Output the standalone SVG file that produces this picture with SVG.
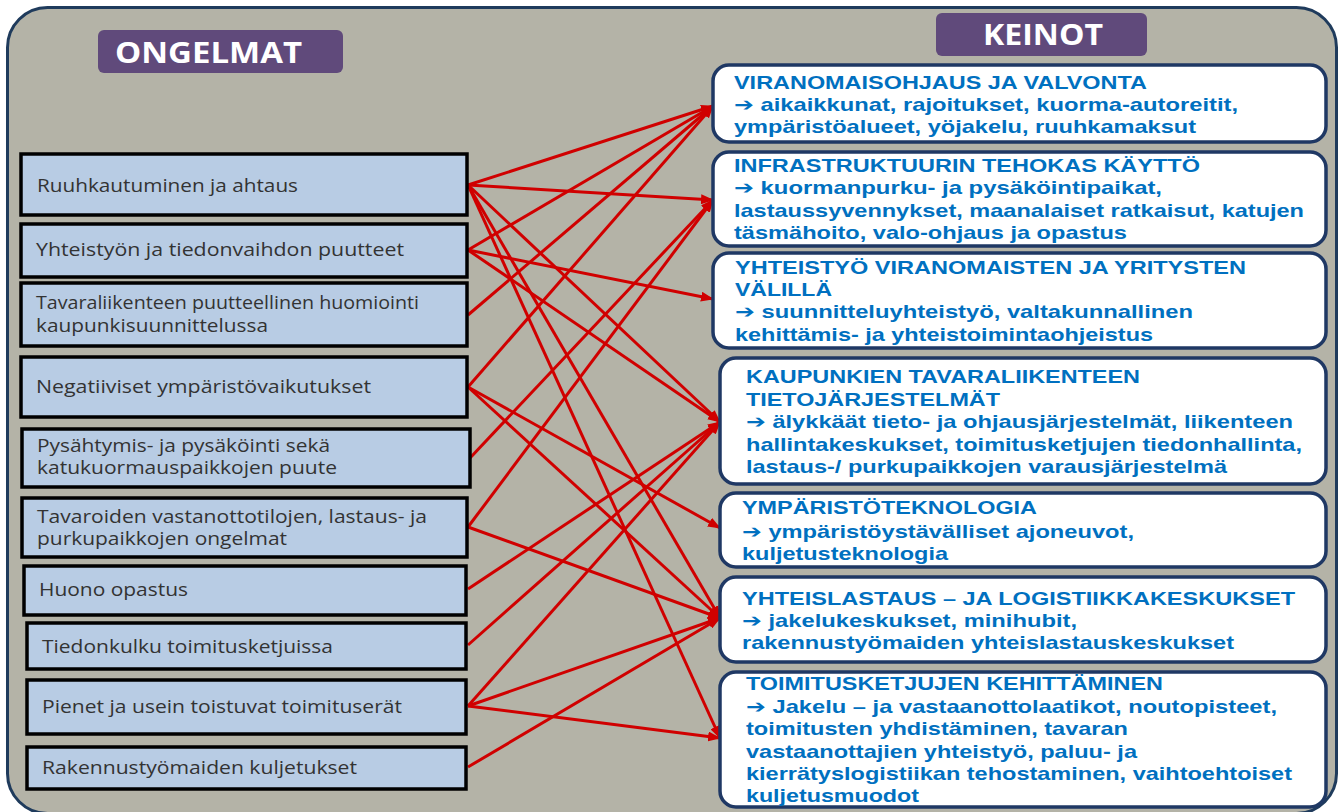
<svg xmlns="http://www.w3.org/2000/svg" width="1343" height="812" viewBox="0 0 1343 812">
<defs>
<style>
.bg{fill:#B4B3A7;stroke:#1F3B5C;stroke-width:3}
.hdr{fill:#604A7B}
.hdrt{font-family:"Open Sans","Liberation Sans",sans-serif;font-weight:bold;font-size:28px;fill:#FFFFFF}
.lb{fill:#B8CCE4;stroke:#000000;stroke-width:3.5}
.lt{font-family:"Open Sans","Liberation Sans",sans-serif;font-size:17.5px;fill:#333333}
.rb{fill:#FFFFFF;stroke:#1F3864;stroke-width:3.5}
.rt{font-family:"Liberation Sans",Arial,"DejaVu Sans",sans-serif;font-weight:bold;font-size:18.5px;fill:#0070C0}
.cn{stroke:#D00000;stroke-width:3;fill:none;marker-end:url(#ah)}
</style>
<marker id="ah" markerUnits="userSpaceOnUse" markerWidth="13" markerHeight="10" refX="12" refY="5" orient="auto">
<path d="M0,0 L13,5 L0,10 z" fill="#D00000"/>
</marker>
</defs>
<rect class="bg" x="7.5" y="7.5" width="1329" height="806" rx="40"/>
<g id="hdr-ongelmat">
<rect class="hdr" x="98" y="30" width="245" height="43" rx="6"/>
<text class="hdrt" x="115" y="63" textLength="187" lengthAdjust="spacingAndGlyphs">ONGELMAT</text>
</g>
<g id="hdr-keinot">
<rect class="hdr" x="936" y="13" width="211" height="43" rx="6"/>
<text class="hdrt" x="983" y="45" textLength="120" lengthAdjust="spacingAndGlyphs">KEINOT</text>
</g>
<g id="connectors">
<line class="cn" x1="468" y1="185" x2="713" y2="106"/>
<line class="cn" x1="468" y1="185" x2="713" y2="200"/>
<line class="cn" x1="468" y1="185" x2="720" y2="422"/>
<line class="cn" x1="468" y1="185" x2="720" y2="618"/>
<line class="cn" x1="468" y1="185" x2="720" y2="738"/>
<line class="cn" x1="468" y1="250" x2="713" y2="106"/>
<line class="cn" x1="468" y1="250" x2="713" y2="299"/>
<line class="cn" x1="468" y1="250" x2="720" y2="422"/>
<line class="cn" x1="468" y1="315" x2="713" y2="106"/>
<line class="cn" x1="468" y1="387" x2="713" y2="106"/>
<line class="cn" x1="468" y1="387" x2="720" y2="528"/>
<line class="cn" x1="468" y1="387" x2="720" y2="618"/>
<line class="cn" x1="470" y1="458" x2="713" y2="200"/>
<line class="cn" x1="468" y1="527" x2="713" y2="200"/>
<line class="cn" x1="468" y1="527" x2="720" y2="618"/>
<line class="cn" x1="468" y1="589" x2="720" y2="422"/>
<line class="cn" x1="468" y1="645" x2="720" y2="422"/>
<line class="cn" x1="468" y1="706" x2="720" y2="422"/>
<line class="cn" x1="468" y1="706" x2="720" y2="618"/>
<line class="cn" x1="468" y1="706" x2="720" y2="738"/>
<line class="cn" x1="468" y1="767" x2="720" y2="618"/>
</g>
<g id="p1"><rect class="lb" x="21" y="154" width="446" height="61"/><text class="lt" x="37" y="192" textLength="261" lengthAdjust="spacingAndGlyphs">Ruuhkautuminen ja ahtaus</text></g>
<g id="p2"><rect class="lb" x="21" y="224" width="446" height="53"/><text class="lt" x="36" y="256" textLength="368" lengthAdjust="spacingAndGlyphs">Yhteistyön ja tiedonvaihdon puutteet</text></g>
<g id="p3"><rect class="lb" x="21" y="283" width="446" height="63"/><text class="lt" x="36" y="309" textLength="383" lengthAdjust="spacingAndGlyphs">Tavaraliikenteen puutteellinen huomiointi</text><text class="lt" x="36" y="332" textLength="232" lengthAdjust="spacingAndGlyphs">kaupunkisuunnittelussa</text></g>
<g id="p4"><rect class="lb" x="21" y="357" width="446" height="60"/><text class="lt" x="36" y="393" textLength="335" lengthAdjust="spacingAndGlyphs">Negatiiviset ympäristövaikutukset</text></g>
<g id="p5"><rect class="lb" x="22" y="429" width="448" height="58"/><text class="lt" x="37" y="452" textLength="293" lengthAdjust="spacingAndGlyphs">Pysähtymis- ja pysäköinti sekä</text><text class="lt" x="37" y="474" textLength="300" lengthAdjust="spacingAndGlyphs">katukuormauspaikkojen puute</text></g>
<g id="p6"><rect class="lb" x="22" y="498" width="445" height="59"/><text class="lt" x="37" y="523" textLength="390" lengthAdjust="spacingAndGlyphs">Tavaroiden vastanottotilojen, lastaus- ja</text><text class="lt" x="37" y="545" textLength="250" lengthAdjust="spacingAndGlyphs">purkupaikkojen ongelmat</text></g>
<g id="p7"><rect class="lb" x="24" y="566" width="442" height="49"/><text class="lt" x="39" y="596" textLength="149" lengthAdjust="spacingAndGlyphs">Huono opastus</text></g>
<g id="p8"><rect class="lb" x="27" y="623" width="439" height="46"/><text class="lt" x="42" y="653" textLength="291" lengthAdjust="spacingAndGlyphs">Tiedonkulku toimitusketjuissa</text></g>
<g id="p9"><rect class="lb" x="27" y="680" width="439" height="54"/><text class="lt" x="42" y="713" textLength="360" lengthAdjust="spacingAndGlyphs">Pienet ja usein toistuvat toimituserät</text></g>
<g id="p10"><rect class="lb" x="27" y="747" width="439" height="42"/><text class="lt" x="42" y="774" textLength="315" lengthAdjust="spacingAndGlyphs">Rakennustyömaiden kuljetukset</text></g>
<g id="k1"><rect class="rb" x="713" y="65" width="613" height="77" rx="16"/>
<text class="rt" x="734" y="89" textLength="413" lengthAdjust="spacingAndGlyphs">VIRANOMAISOHJAUS JA VALVONTA</text>
<text class="rt" x="734" y="111" textLength="504" lengthAdjust="spacingAndGlyphs">➔ aikaikkunat, rajoitukset, kuorma-autoreitit,</text>
<text class="rt" x="734" y="133" textLength="462" lengthAdjust="spacingAndGlyphs">ympäristöalueet, yöjakelu, ruuhkamaksut</text></g>
<g id="k2"><rect class="rb" x="713" y="152" width="613" height="94" rx="16"/>
<text class="rt" x="734" y="172" textLength="466" lengthAdjust="spacingAndGlyphs">INFRASTRUKTUURIN TEHOKAS KÄYTTÖ</text>
<text class="rt" x="734" y="194" textLength="428" lengthAdjust="spacingAndGlyphs">➔ kuormanpurku- ja pysäköintipaikat,</text>
<text class="rt" x="734" y="217" textLength="570" lengthAdjust="spacingAndGlyphs">lastaussyvennykset, maanalaiset ratkaisut, katujen</text>
<text class="rt" x="734" y="239" textLength="393" lengthAdjust="spacingAndGlyphs">täsmähoito, valo-ohjaus ja opastus</text></g>
<g id="k3"><rect class="rb" x="713" y="253" width="613" height="95" rx="16"/>
<text class="rt" x="735" y="274" textLength="511" lengthAdjust="spacingAndGlyphs">YHTEISTYÖ VIRANOMAISTEN JA YRITYSTEN</text>
<text class="rt" x="735" y="296" textLength="97" lengthAdjust="spacingAndGlyphs">VÄLILLÄ</text>
<text class="rt" x="735" y="318" textLength="458" lengthAdjust="spacingAndGlyphs">➔ suunnitteluyhteistyö, valtakunnallinen</text>
<text class="rt" x="735" y="341" textLength="418" lengthAdjust="spacingAndGlyphs">kehittämis- ja yhteistoimintaohjeistus</text></g>
<g id="k4"><rect class="rb" x="720" y="358" width="606" height="126" rx="16"/>
<text class="rt" x="746" y="383" textLength="394" lengthAdjust="spacingAndGlyphs">KAUPUNKIEN TAVARALIIKENTEEN</text>
<text class="rt" x="746" y="406" textLength="254" lengthAdjust="spacingAndGlyphs">TIETOJÄRJESTELMÄT</text>
<text class="rt" x="746" y="428" textLength="547" lengthAdjust="spacingAndGlyphs">➔ älykkäät tieto- ja ohjausjärjestelmät, liikenteen</text>
<text class="rt" x="746" y="451" textLength="556" lengthAdjust="spacingAndGlyphs">hallintakeskukset, toimitusketjujen tiedonhallinta,</text>
<text class="rt" x="746" y="473" textLength="481" lengthAdjust="spacingAndGlyphs">lastaus-/ purkupaikkojen varausjärjestelmä</text></g>
<g id="k5"><rect class="rb" x="720" y="493" width="606" height="74" rx="16"/>
<text class="rt" x="742" y="514" textLength="295" lengthAdjust="spacingAndGlyphs">YMPÄRISTÖTEKNOLOGIA</text>
<text class="rt" x="742" y="538" textLength="392" lengthAdjust="spacingAndGlyphs">➔ ympäristöystävälliset ajoneuvot,</text>
<text class="rt" x="742" y="560" textLength="206" lengthAdjust="spacingAndGlyphs">kuljetusteknologia</text></g>
<g id="k6"><rect class="rb" x="720" y="577" width="606" height="85" rx="16"/>
<text class="rt" x="742" y="605" textLength="553" lengthAdjust="spacingAndGlyphs">YHTEISLASTAUS – JA LOGISTIIKKAKESKUKSET</text>
<text class="rt" x="742" y="627" textLength="335" lengthAdjust="spacingAndGlyphs">➔ jakelukeskukset, minihubit,</text>
<text class="rt" x="742" y="649" textLength="492" lengthAdjust="spacingAndGlyphs">rakennustyömaiden yhteislastauskeskukset</text></g>
<g id="k7"><rect class="rb" x="720" y="672" width="606" height="135" rx="16"/>
<text class="rt" x="746" y="690" textLength="417" lengthAdjust="spacingAndGlyphs">TOIMITUSKETJUJEN KEHITTÄMINEN</text>
<text class="rt" x="746" y="713" textLength="531" lengthAdjust="spacingAndGlyphs">➔ Jakelu – ja vastaanottolaatikot, noutopisteet,</text>
<text class="rt" x="746" y="735" textLength="382" lengthAdjust="spacingAndGlyphs">toimitusten yhdistäminen, tavaran</text>
<text class="rt" x="746" y="758" textLength="391" lengthAdjust="spacingAndGlyphs">vastaanottajien yhteistyö, paluu- ja</text>
<text class="rt" x="746" y="780" textLength="546" lengthAdjust="spacingAndGlyphs">kierrätyslogistiikan tehostaminen, vaihtoehtoiset</text>
<text class="rt" x="746" y="802" textLength="173" lengthAdjust="spacingAndGlyphs">kuljetusmuodot</text></g>
</svg>
